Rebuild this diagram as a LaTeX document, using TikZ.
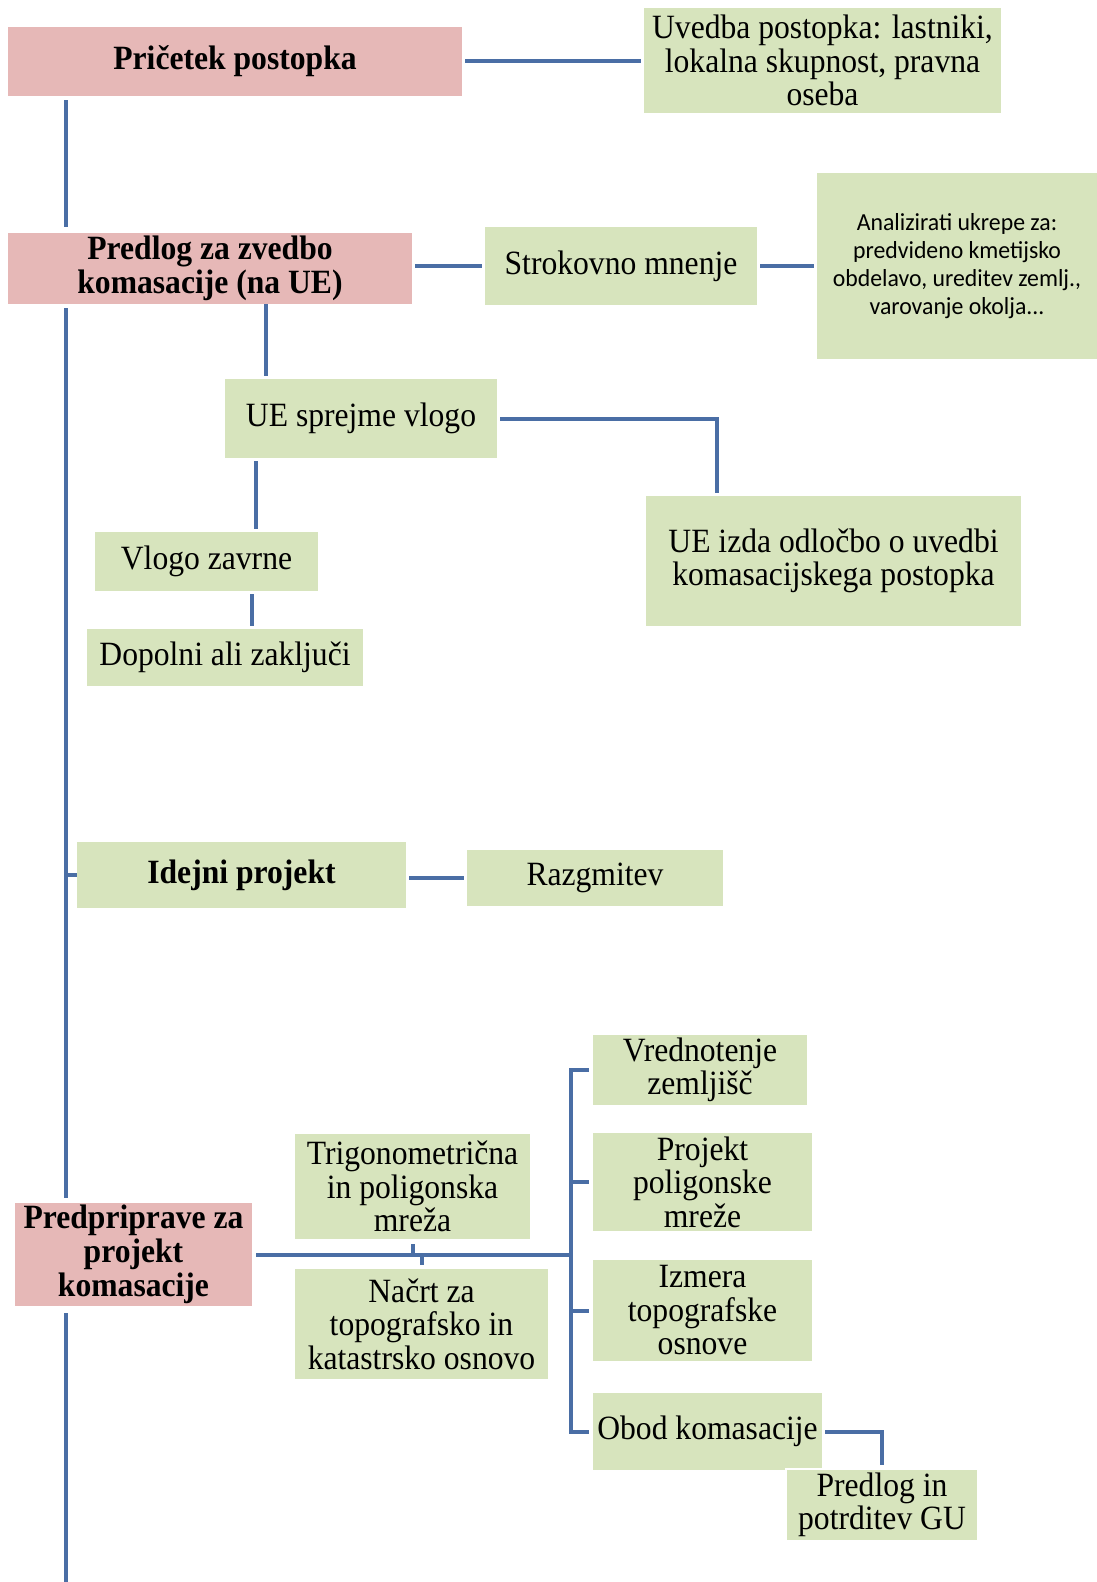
\documentclass[tikz,border=0pt]{standalone}
\usepackage{fontspec}
\setmainfont{Liberation Serif}[FakeStretch=0.93]
\newfontfamily\notefont{Carlito}[FakeStretch=0.97]
\usetikzlibrary{calc}
\definecolor{linkblue}{RGB}{74,110,165}
\definecolor{rosefill}{RGB}{230,184,183}
\definecolor{leaffill}{RGB}{215,228,189}

\begin{document}
\begin{tikzpicture}[x=1pt,y=-1pt,
  base/.style={rectangle, inner sep=0pt, align=center, text=black,
    font=\fontsize{34}{33.5}\selectfont},
  rosebox/.style={base, fill=rosefill, font=\fontsize{34}{34}\selectfont\bfseries},
  leafbox/.style={base, fill=leaffill},
  boldleaf/.style={base, fill=leaffill, font=\fontsize{34}{34}\selectfont\bfseries},
  notebox/.style={base, fill=leaffill, font=\notefont\fontsize{24.5}{28}\selectfont},
  link/.style={draw=linkblue, line width=4pt},
  gap/.style={shorten <=3pt, shorten >=3pt}]

% canvas
\fill[white] (0,0) rectangle (1097,1582);
\useasboundingbox (0,0) rectangle (1097,1582);

% ---- boxes ----
\node[rosebox, minimum width=454, minimum height=69] (pricetek) at (235,61.5) {Pričetek postopka};
\node[leafbox, minimum width=357, minimum height=105] (uvedba) at (822.5,60.5)
  {Uvedba postopka: lastniki,\\lokalna skupnost, pravna\\oseba};
\node[rosebox, minimum width=404, minimum height=71] (predlog) at (210,268.5)
  {Predlog za zvedbo\\komasacije (na UE)};
\node[leafbox, minimum width=272, minimum height=78] (strok) at (621,266) {Strokovno mnenje};
\node[notebox, minimum width=280, minimum height=186] (analiz) at (957,266)
  {Analizirati ukrepe za:\\predvideno kmetijsko\\obdelavo, ureditev zemlj.,\\varovanje okolja...};
\node[leafbox, minimum width=272, minimum height=79] (uesp) at (361,418.5) {UE sprejme vlogo};
\node[leafbox, minimum width=375, minimum height=130] (uei) at (833.5,561)
  {UE izda odločbo o uvedbi\\komasacijskega postopka};
\node[leafbox, minimum width=223, minimum height=59] (vz) at (206.5,561.5) {Vlogo zavrne};
\node[leafbox, minimum width=276, minimum height=57] (dop) at (225,657.5) {Dopolni ali zaključi};
\node[boldleaf, minimum width=329, minimum height=66] (idejni) at (241.5,875) {Idejni projekt};
\node[leafbox, minimum width=256, minimum height=56] (razg) at (595,878) {Razgmitev};
\node[rosebox, minimum width=237, minimum height=103] (pp) at (133.5,1254.5)
  {Predpriprave za\\projekt\\komasacije};
\node[leafbox, minimum width=235, minimum height=105] (trig) at (412.5,1186.5)
  {Trigonometrična\\in poligonska\\mreža};
\node[leafbox, minimum width=253, minimum height=110] (nacrt) at (421.5,1324)
  {Načrt za\\topografsko in\\katastrsko osnovo};
\node[leafbox, minimum width=214, minimum height=70] (vred) at (700,1070)
  {Vrednotenje\\zemljišč};
\node[leafbox, minimum width=219, minimum height=98] (proj) at (702.5,1182)
  {Projekt\\poligonske\\mreže};
\node[leafbox, minimum width=219, minimum height=101] (izm) at (702.5,1310.5)
  {Izmera\\topografske\\osnove};
\node[leafbox, minimum width=229, minimum height=77] (obod) at (707.5,1431.5) {Obod komasacije};
\node[leafbox, draw=white, line width=1.5pt, minimum width=192, minimum height=72] (gu) at (882,1505)
  {Predlog in\\potrditev GU};

% ---- reference columns for vertical connectors ----
\coordinate (tx) at (66,0);
\coordinate (ux) at (266,0);
\coordinate (uix) at (716.5,0);
\coordinate (vx) at (256,0);
\coordinate (dx) at (252,0);
\coordinate (bx) at (571,0);
\coordinate (tbottom) at (66,1582);

% ---- main trunk ----
\draw[link] ($(pricetek.south -| tx)+(0,4)$) -- ($(predlog.north -| tx)+(0,-6)$);
\draw[link] ($(predlog.south -| tx)+(0,4)$) -- ($(pp.north -| tx)+(0,-5)$);
\draw[link] (idejni.west -| tx) -- (idejni.west);
\draw[link] ($(pp.south -| tx)+(0,7)$) -- (tbottom);

% ---- branches ----
\draw[link,gap] (uvedba.west -| pricetek.east) -- (uvedba.west);
\draw[link,gap] (strok.west -| predlog.east) -- (strok.west);
\draw[link,gap] (strok.east) -- (strok.east -| analiz.west);
\draw[link] (predlog.south -| ux) -- ($(uesp.north -| ux)+(0,-3)$);
\draw[link,gap] (uesp.east) -| (uei.north -| uix);
\draw[link,gap] (uesp.south -| vx) -- (vz.north -| vx);
\draw[link,gap] (vz.south -| dx) -- (dop.north -| dx);
\draw[link,gap] (razg.west -| idejni.east) -- (razg.west);

% ---- preparation branch ----
\draw[link] ($(pp.east)+(4,0)$) -- (pp.east -| bx);
\draw[link] ($(trig.south)+(0,5)$) -- (trig.south |- pp.east);
\draw[link] (nacrt.north |- pp.east) -- ($(nacrt.north)+(0,-4)$);
\draw[link] ($(vred.west)+(-4,0)$) -| (obod.west -| bx) -- ($(obod.west)+(-4,0)$);
\draw[link] (proj.west -| bx) -- ($(proj.west)+(-4,0)$);
\draw[link] (izm.west -| bx) -- ($(izm.west)+(-4,0)$);
\draw[link,gap] (obod.east) -| (gu.north);
\end{tikzpicture}
\end{document}
